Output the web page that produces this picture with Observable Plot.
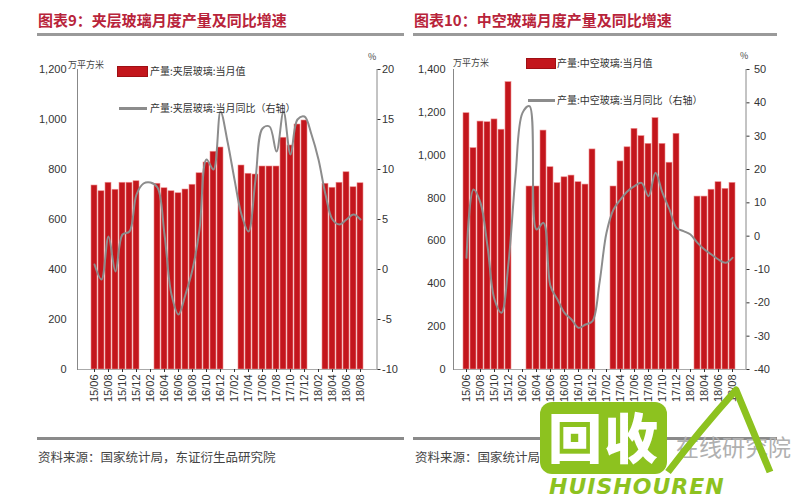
<!DOCTYPE html>
<html>
<head>
<meta charset="utf-8">
<script src="https://cdn.jsdelivr.net/npm/d3@7"></script>
<script src="https://cdn.jsdelivr.net/npm/@observablehq/plot@0.6"></script>
<style>
  html, body { margin: 0; padding: 0; background: #fff; }
  #page { position: relative; width: 800px; height: 500px; overflow: hidden; background: #fff;
          font-family: "Noto Sans CJK SC", "Noto Sans", sans-serif; }
  .abs { position: absolute; white-space: nowrap; }
  .title { font-size: 15px; font-weight: bold; color: #b8233a; line-height: 20px; }
  .rule { position: absolute; }
  .leg { font-size: 10px; color: #333; line-height: 12px; }
  .unit { font-size: 9px; color: #444; line-height: 10px; }
  .src { font-size: 12.5px; color: #444; line-height: 16px; }
  .panel { position: absolute; top: 0; }
</style>
</head>
<body>
<div id="page">
  <div class="abs title" style="left:38px; top:10px;">图表9：夹层玻璃月度产量及同比增速</div>
  <div class="abs title" style="left:414px; top:10px;">图表10：中空玻璃月度产量及同比增速</div>
  <div class="rule" style="left:37px; top:33px; width:367px; height:3px; background:#9a9a9a;"></div>
  <div class="rule" style="left:413px; top:33px; width:364px; height:3px; background:#9a9a9a;"></div>

  <div id="left" class="panel" style="left:0px;"></div>
  <div id="right" class="panel" style="left:400px;"></div>

  <!-- legends -->
  <div class="rule" style="left:117px; top:66px; width:29px; height:9px; background:#c3161c; border:1px solid #9e0f14;"></div>
  <div class="abs leg" style="left:150px; top:65px;">产量:夹层玻璃:当月值</div>
  <div class="rule" style="left:119px; top:107px; width:28px; height:3px; background:#8c8c8c;"></div>
  <div class="abs leg" style="left:150px; top:102px;">产量:夹层玻璃:当月同比（右轴）</div>

  <div class="rule" style="left:526px; top:58px; width:28px; height:9px; background:#c3161c; border:1px solid #9e0f14;"></div>
  <div class="abs leg" style="left:557px; top:57px;">产量:中空玻璃:当月值</div>
  <div class="rule" style="left:528px; top:99px; width:27px; height:3px; background:#8c8c8c;"></div>
  <div class="abs leg" style="left:557px; top:94px;">产量:中空玻璃:当月同比（右轴）</div>

  <!-- units -->
  <div class="abs unit" style="left:68px; top:60px;">万平方米</div>
  <div class="abs unit" style="left:368px; top:52px;">%</div>
  <div class="abs unit" style="left:453px; top:58px;">万平方米</div>
  <div class="abs unit" style="left:740px; top:51px;">%</div>

  <div class="rule" style="left:37px; top:437px; width:367px; height:2.5px; background:#8a8a8a;"></div>
  <div class="rule" style="left:413px; top:437px; width:364px; height:2.5px; background:#8a8a8a;"></div>
  <div class="abs src" style="left:38px; top:449px;">资料来源：国家统计局，东证衍生品研究院</div>
  <div class="abs src" style="left:415px; top:449px;">资料来源：国家统计局，东证衍生品研究院</div>

  <!-- watermark -->
  <div class="abs" style="left:676px; top:432px; font-size:23px; color:#b0b0b0; line-height:28px;">在线研究院</div>
  <div class="rule" style="left:540px; top:402px; width:127px; height:72px; background:#8dc21f; border-radius:12px;"></div>
  <div class="abs" style="left:548px; top:404px; font-size:54px; font-weight:900; color:#fff; line-height:64px; letter-spacing:2px;">回收</div>
  <div class="abs" style="left:549px; top:474px; font-size:22px; font-weight:bold; font-style:italic; color:#8dc21f; line-height:26px; font-family:'DejaVu Sans', sans-serif; letter-spacing:1px;">HUISHOUREN</div>
  <svg class="abs" style="left:0; top:0;" width="800" height="500">
    <path d="M668 472 Q 700 430 736 390 L 770 472" fill="none" stroke="#8dc21f" stroke-width="7" stroke-linejoin="round"/>
  </svg>
</div>

<script>
// ---------- data ----------
const months = ["15/06","15/07","15/08","15/09","15/10","15/11","15/12",
  "16/01","16/02","16/03","16/04","16/05","16/06","16/07","16/08","16/09","16/10","16/11","16/12",
  "17/01","17/02","17/03","17/04","17/05","17/06","17/07","17/08","17/09","17/10","17/11","17/12",
  "18/01","18/02","18/03","18/04","18/05","18/06","18/07","18/08"];

const tickLabels = ["15/06","15/08","15/10","15/12","16/02","16/04","16/06","16/08","16/10","16/12",
  "17/02","17/04","17/06","17/08","17/10","17/12","18/02","18/04","18/06","18/08"];

// 产量:夹层玻璃:当月值 (万平方米)
const laminatedOutput = [736,713,747,719,747,747,753,
  null,null,743,725,713,705,720,739,785,828,871,888,
  null,null,816,783,780,812,812,812,927,896,980,996,
  null,null,743,727,747,789,729,745];

// 产量:夹层玻璃:当月同比 (%)
const laminatedYoY = [0.5,-1.0,3.3,-0.2,3.5,3.8,7.5,
  8.6,8.7,8.2,3.5,-2.5,-4.5,-2.5,0.0,4.0,11.0,10.0,15.8,
  12.8,9.0,5.5,3.8,9.0,14.1,14.3,11.8,15.8,11.5,15.0,15.3,
  13.5,11.0,7.5,5.0,4.5,5.0,5.5,5.0];

// 产量:中空玻璃:当月值 (万平方米)
const hollowOutput = [1196,1033,1157,1154,1167,1119,1341,
  null,null,854,854,1115,944,870,897,905,874,863,1027,
  null,null,854,971,1037,1123,1089,1053,1173,1053,965,1100,
  null,null,807,807,839,874,843,871];

// 产量:中空玻璃:当月同比 (%)
const hollowYoY = [-6.5,14,10,-3,-19,-23,-8,
  18,37,39,2,4,-15,-19,-23,-25,-27.5,-26.5,-25.5,
  -14,1,8,11,13.5,15,16,12,19,13,8,2.5,
  1.5,0.5,-2,-4,-5.5,-7,-8,-6.5];

const leftAxisTicksA = [0,200,400,600,800,1000,1200];
const rightAxisTicksA = [-10,-5,0,5,10,15,20];
const leftAxisTicksB = [0,200,400,600,800,1000,1200,1400];
const rightAxisTicksB = [-40,-30,-20,-10,0,10,20,30,40,50];

// ---------- chart builder ----------
function panel({output, yoy, leftTicks, rightTicks, marginLeft, marginRight, padLeft, padRight}) {
  const yMax = leftTicks[leftTicks.length - 1];
  const rMin = rightTicks[0], rMax = rightTicks[rightTicks.length - 1];
  // right-axis values mapped onto the left-axis scale
  const toLeft = d3.scaleLinear().domain([rMin, rMax]).range([0, yMax]);
  const data = months.map((m, i) => ({month: m, output: output[i], yoy: yoy[i]}));
  return Plot.plot({
    width: 400, height: 410,
    marginLeft, marginRight, marginTop: 69, marginBottom: 41,
    style: {fontFamily: "'Liberation Sans', Arial, sans-serif", fontSize: "11px", color: "#333", background: "transparent", overflow: "visible"},
    x: {type: "band", domain: months, padding: 0.2, label: null},
    y: {domain: [0, yMax], label: null},
    marks: [
      Plot.barY(data, {x: "month", y: "output", fill: "#c3161c", stroke: "#ee8e8e", strokeWidth: 0.6}),
      Plot.line(data, {x: "month", y: d => toLeft(d.yoy), stroke: "#8c8c8c", strokeWidth: 2, curve: "catmull-rom"}),
      Plot.ruleY([0], {stroke: "#aaa", strokeWidth: 1}),
      Plot.frame({anchor: "left", stroke: "#888"}),
      Plot.frame({anchor: "right", stroke: "#888"}),
      Plot.axisY({anchor: "left", ticks: leftTicks, tickSize: 0, tickPadding: padLeft, tickFormat: d3.format(","), label: null}),
      Plot.axisY({anchor: "right", ticks: rightTicks.map(v => toLeft(v)), tickSize: 3, tickPadding: padRight,
                  tickFormat: d => String(Math.round(toLeft.invert(d))), label: null}),
      Plot.axisX({ticks: tickLabels, tickRotate: -90, tickSize: 3, tickPadding: 2, label: null})
    ]
  });
}

document.getElementById("left").appendChild(panel({
  output: laminatedOutput, yoy: laminatedYoY,
  leftTicks: leftAxisTicksA, rightTicks: rightAxisTicksA,
  marginLeft: 77, marginRight: 23.5, padLeft: 11, padRight: 2
}));
document.getElementById("right").appendChild(panel({
  output: hollowOutput, yoy: hollowYoY,
  leftTicks: leftAxisTicksB, rightTicks: rightAxisTicksB,
  marginLeft: 53, marginRight: 54.5, padLeft: 8, padRight: 5
}));
</script>
</body>
</html>
